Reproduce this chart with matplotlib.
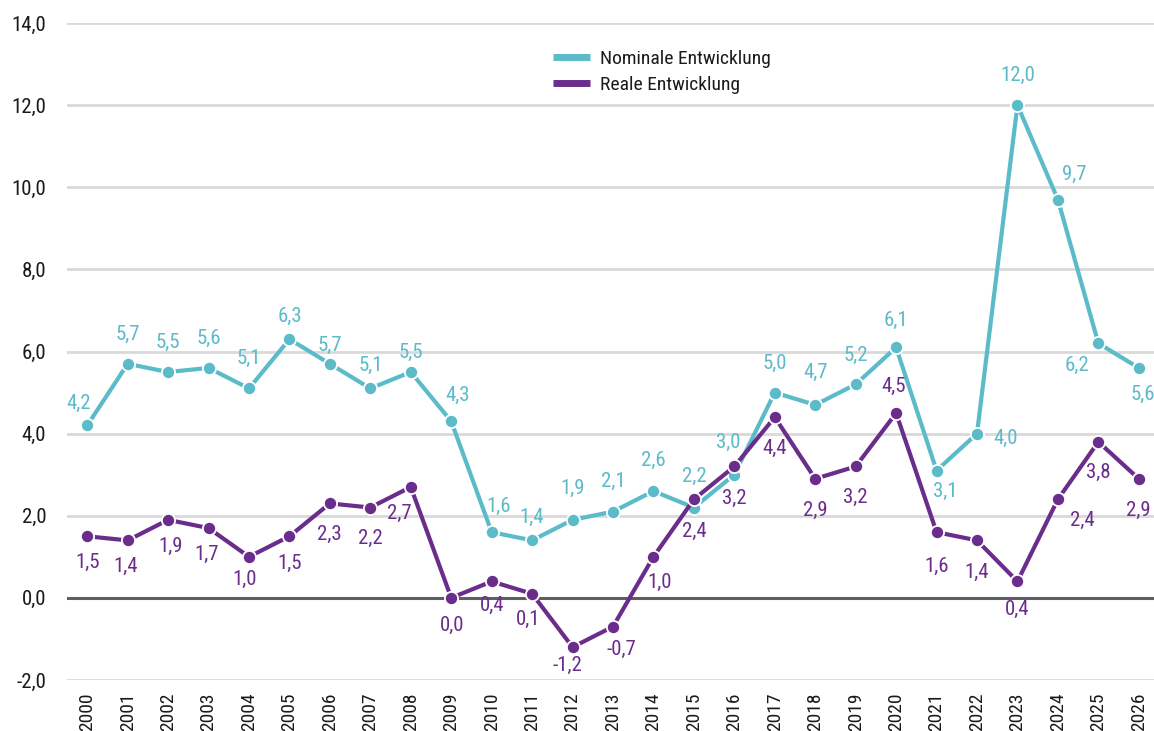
import matplotlib
matplotlib.use("Agg")
import matplotlib.pyplot as plt
from matplotlib import font_manager

# ---------------- data ----------------
years = list(range(2000, 2027))
nominal = [4.2, 5.7, 5.5, 5.6, 5.1, 6.3, 5.7, 5.1, 5.5, 4.3, 1.6, 1.4, 1.9, 2.1, 2.6,
           2.2, 3.0, 5.0, 4.7, 5.2, 6.1, 3.1, 4.0, 12.0, 9.7, 6.2, 5.6]
real = [1.5, 1.4, 1.9, 1.7, 1.0, 1.5, 2.3, 2.2, 2.7, 0.0, 0.4, 0.1, -1.2, -0.7, 1.0,
        2.4, 3.2, 4.4, 2.9, 3.2, 4.5, 1.6, 1.4, 0.4, 2.4, 3.8, 2.9]
series_names = ["Nominale Entwicklung", "Reale Entwicklung"]
y_ticks = [-2, 0, 2, 4, 6, 8, 10, 12, 14]

# ---------------- label placement (pixel offsets: dx, dy downward) ----------------
nom_off = [(-9, -22), (0, -29), (0, -30), (0, -30), (0, -30), (0, -23), (0, -18), (0, -23),
           (0, -20), (6, -26), (7, -26), (0, -23), (0, -31), (0, -30), (0, -31), (0, -31),
           (-6, -32), (0, -29), (0, -32), (0, -29), (0, -27), (9, 21), (29, 5), (0, -30),
           (16, -25), (-21, 22), (4, 26)]
real_off = [(0, 26), (-2, 26), (3, 27), (-2, 26), (-4, 23), (0, 27), (-1, 31), (0, 31),
            (-11, 26), (1, 28), (0, 24), (-4, 26), (-5, 18), (8, 23), (6, 26), (0, 32),
            (0, 32), (0, 31), (0, 32), (0, 31), (-2, -27), (0, 34), (0, 32), (0, 28),
            (24, 21), (0, 31), (0, 32)]

# ---------------- font ----------------
def pick_font(cands):
    for c in cands:
        try:
            font_manager.findfont(font_manager.FontProperties(family=c), fallback_to_default=False)
            return c
        except Exception:
            continue
    return "DejaVu Sans"

FONT = pick_font(["Roboto Condensed", "Liberation Sans Narrow", "Open Sans Condensed",
                  "Arial Narrow", "Roboto", "Liberation Sans"])
plt.rcParams["font.family"] = [FONT, "DejaVu Sans"]

C_NOM = "#5BBBC9"
C_REAL = "#6B2D8C"
TXT = "#1a1a1a"

W, H = 1154, 731
fig = plt.figure(figsize=(W / 100, H / 100), dpi=100)
ax = fig.add_axes([67 / W, (H - 680) / H, (1159 - 67) / W, (680 - 23) / H])

x = list(range(len(years)))
ax.set_xlim(-0.5, len(years) - 0.5)
ax.set_ylim(-2, 14)

for v in y_ticks:
    if v == 0:
        ax.axhline(v, color="#5f5f5f", lw=2.2, zorder=1)
    else:
        ax.axhline(v, color="#d9d9d9", lw=2.0, zorder=0)

ax.plot(x, nominal, color=C_NOM, lw=3.0, marker="o", ms=9.5, mfc=C_NOM, mec="white",
        mew=1.3, zorder=3, label=series_names[0], solid_capstyle="butt")
ax.plot(x, real, color=C_REAL, lw=3.0, marker="o", ms=9.5, mfc=C_REAL, mec="white",
        mew=1.3, zorder=4, label=series_names[1], solid_capstyle="butt")

def fmt(v):
    return f"{v:.1f}".replace(".", ",")

LBL = 15
for i, v in enumerate(nominal):
    dx, dy = nom_off[i]
    ax.annotate(fmt(v), (x[i], v), xytext=(dx, -dy), textcoords="offset pixels",
                ha="center", va="center", color=C_NOM, fontsize=LBL, zorder=5,
                annotation_clip=False)
for i, v in enumerate(real):
    dx, dy = real_off[i]
    ax.annotate(fmt(v), (x[i], v), xytext=(dx, -dy), textcoords="offset pixels",
                ha="center", va="center", color=C_REAL, fontsize=LBL, zorder=5,
                annotation_clip=False)

ax.set_yticks(y_ticks)
ax.set_yticklabels([fmt(v) for v in y_ticks], fontsize=15, color=TXT)
ax.set_xticks(x)
ax.set_xticklabels([str(y) for y in years], rotation=90, fontsize=14, color=TXT)
ax.tick_params(axis="both", length=0)
ax.tick_params(axis="y", pad=15)
ax.tick_params(axis="x", pad=9)
for s in ax.spines.values():
    s.set_visible(False)

leg = fig.legend(loc="upper left", bbox_to_anchor=(553 / W, 1 - 50 / H), frameon=False,
                 fontsize=14, handlelength=1.9, handletextpad=0.5, labelspacing=0.42,
                 borderaxespad=0, borderpad=0)
for line in leg.get_lines():
    line.set_marker("")
    line.set_linewidth(5)
for t in leg.get_texts():
    t.set_color(TXT)

fig.savefig("out.png", dpi=100)
